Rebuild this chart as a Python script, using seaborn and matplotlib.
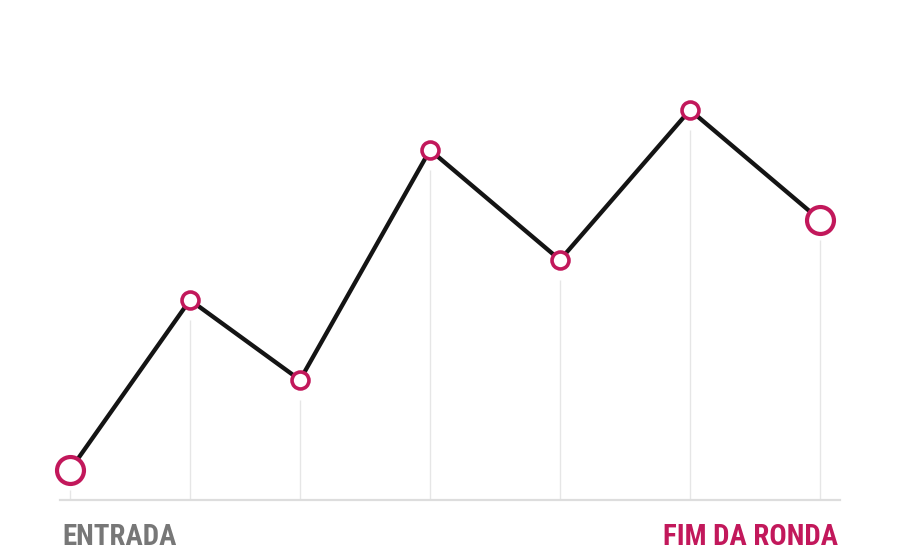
import matplotlib
matplotlib.use("Agg")
import matplotlib.pyplot as plt
import seaborn as sns
import pandas as pd

# data
steps = [0, 12, 23, 36, 49, 62, 75]
values = [3, 20, 12, 35, 24, 39, 28]
start_label = "ENTRADA"
end_label = "FIM DA RONDA"

ACCENT = "#C2185B"
LINE = "#141414"
GRID = "#e6e6e6"
GRAY = "#777777"

sns.set_theme(style="white")
plt.rcParams['font.family'] = ['Roboto Condensed', 'Roboto', 'DejaVu Sans']

df = pd.DataFrame({"step": steps, "value": values})
ends = df.iloc[[0, -1]]
mids = df.iloc[1:-1]

fig = plt.figure(figsize=(9, 5.6), dpi=100)
ax = fig.add_axes([60 / 900, 60 / 560, 780 / 900, 450 / 560])

ax.vlines(df["step"], 0, df["value"] - 2, color=GRID, lw=1.0, zorder=1)
sns.lineplot(data=df, x="step", y="value", ax=ax, color=LINE, lw=3.1, zorder=2)
sns.scatterplot(data=mids, x="step", y="value", ax=ax, s=12.2 ** 2, color="white",
                edgecolor=ACCENT, linewidth=2.6, zorder=3, clip_on=False)
sns.scatterplot(data=ends, x="step", y="value", ax=ax, s=19.4 ** 2, color="white",
                edgecolor=ACCENT, linewidth=3.0, zorder=3, clip_on=False)

ax.set_xlim(-1, 77)
ax.set_ylim(0, 45)
ax.set_xticks([])
ax.set_yticks([])
ax.set_xlabel("")
ax.set_ylabel("")
for s in ["top", "left", "right"]:
    ax.spines[s].set_visible(False)
ax.spines["bottom"].set_color("#dddddd")
ax.spines["bottom"].set_linewidth(1.6)

fig.text(62 / 900, 1 - 545 / 560, start_label, color=GRAY, fontsize=20.8,
         fontweight="bold", ha="left", va="baseline")
fig.text(838 / 900, 1 - 545 / 560, end_label, color=ACCENT, fontsize=20.8,
         fontweight="bold", ha="right", va="baseline")

fig.savefig("out.png", dpi=100, facecolor="white")
